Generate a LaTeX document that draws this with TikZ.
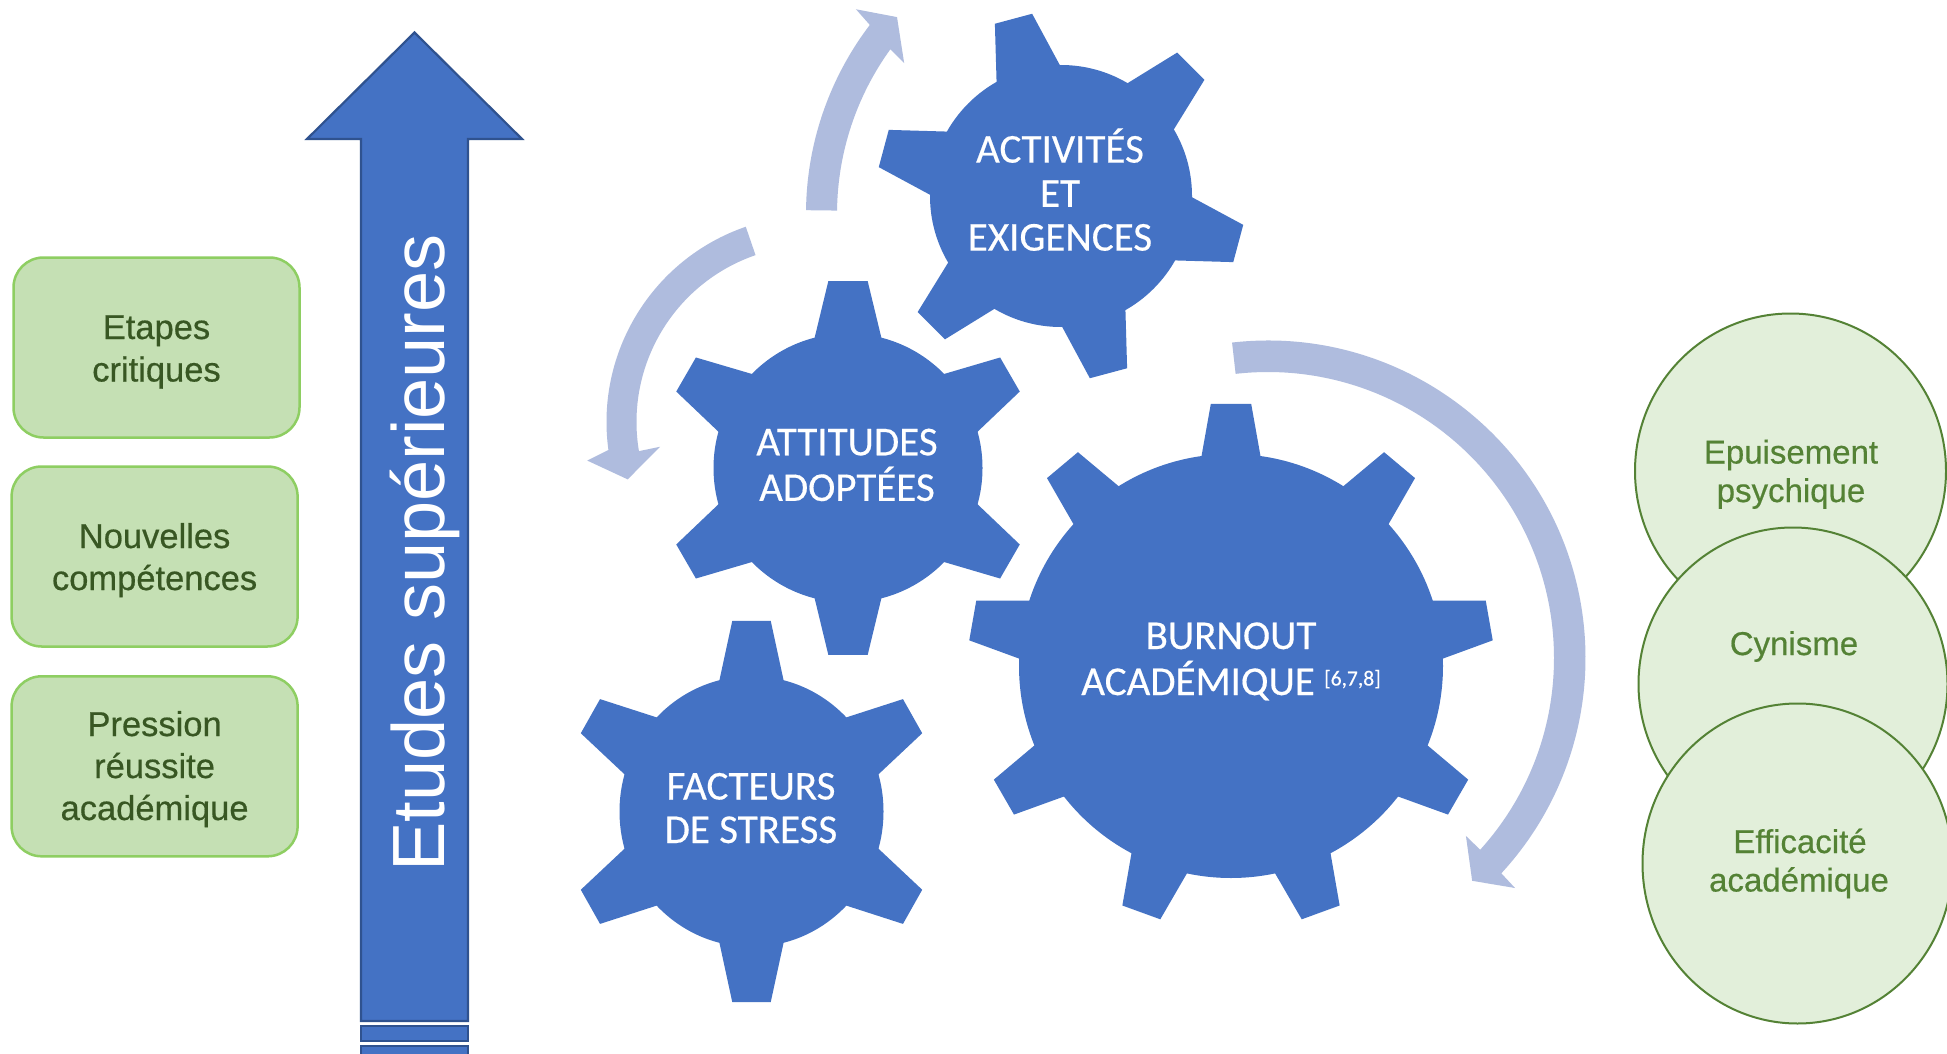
\documentclass[tikz,border=0pt]{standalone}
\usepackage{fontspec}
\setmainfont{Liberation Sans}
\newfontfamily\calfont{Carlito}[FakeBold=0.4]
\newfontfamily\lblfont{Liberation Sans}[FakeBold=0.5]
\usetikzlibrary{calc}

\definecolor{gearblue}{RGB}{68,114,196}
\definecolor{gearedge}{RGB}{47,82,143}
\definecolor{cyclecol}{RGB}{175,188,222}
\definecolor{boxfill}{RGB}{197,224,180}
\definecolor{boxline}{RGB}{142,206,98}
\definecolor{boxtext}{RGB}{56,87,35}
\definecolor{ellfill}{RGB}{226,239,218}
\definecolor{elline}{RGB}{84,130,53}
\definecolor{elltext}{RGB}{84,130,53}

% gear drawn at origin: root radius, outer radius, teeth, start angle, tip half-angle, base half-angle
\newcommand{\gearshape}[6]{%
  \fill[gearblue] (0,0) circle[radius=#1pt];
  \foreach \k in {1,...,#3}{%
    \pgfmathsetmacro\tA{#4+360/#3*(\k-1)}%
    \pgfmathsetmacro\tB{\tA-#6}%
    \pgfmathsetmacro\tC{\tA-#5}%
    \pgfmathsetmacro\tD{\tA+#5}%
    \pgfmathsetmacro\tE{\tA+#6}%
    \pgfmathsetmacro\tR{#1-0.6}%
    \pgfmathsetmacro\tI{#1*0.5}%
    \fill[gearblue] (\tB:\tR pt) -- (\tC:#2pt) -- (\tD:#2pt) -- (\tE:\tR pt) -- (\tA:\tI pt) -- cycle;
  }%
}

\tikzset{
  gtxt/.style={text=white, font=\calfont\fontsize{41}{41}\selectfont, inner sep=0pt, anchor=base},
  btxt/.style={text=boxtext, font=\lblfont\fontsize{34.5}{34.5}\selectfont, inner sep=0pt, anchor=base},
  etxt/.style={text=elltext, font=\lblfont\fontsize{33}{33}\selectfont, inner sep=0pt, anchor=base},
  greenbox/.style={draw=boxline, line width=2.5pt, fill=boxfill, rounded corners=30pt,
    minimum width=286pt, minimum height=180pt, inner sep=0pt},
  greenell/.style={draw=elline, line width=2pt, fill=ellfill},
  cyc/.style={fill=cyclecol},
  bigarrow/.style={fill=gearblue, draw=gearedge, line width=2.2pt, line join=miter},
}

\begin{document}
\begin{tikzpicture}[x=1pt,y=1pt]
\useasboundingbox (0,0) rectangle (1947,-1054);
\fill[white] (0,0) rectangle (1947,-1054);

% ---- vertical arrow "Etudes supérieures"
\draw[bigarrow] (361,-1021) -- (361,-139) -- (307,-139) -- (414.5,-32.5) -- (522,-139) -- (468,-139) -- (468,-1021) -- cycle;
\draw[bigarrow] (361,-1025.7) rectangle (468,-1041);
\draw[bigarrow] (361,-1045.7) rectangle (468,-1060);
\node[text=white, font=\fontsize{74}{74}\selectfont, rotate=90, anchor=base, inner sep=0pt] (etudes) at (444,-553) {Etudes supérieures};

% ---- left boxes
\node[greenbox] (box1) at (156.5,-347.5) {};
\node[greenbox] (box2) at (154.6,-556.5) {};
\node[greenbox] (box3) at (154.6,-766.3) {};
\node[btxt] (b1a) at (156.5,-339) {Etapes};
\node[btxt] (b1b) at (156.5,-381.5) {critiques};
\node[btxt] (b2a) at (154.6,-548) {Nouvelles};
\node[btxt] (b2b) at (154.6,-590) {compétences};
\node[btxt] (b3a) at (154.6,-736) {Pression};
\node[btxt] (b3b) at (154.6,-778) {réussite};
\node[btxt] (b3c) at (154.6,-820) {académique};

% ---- cycle arrows
\coordinate (c1) at (1118,-214);
\fill[cyc] ($(c1)+(179.3:312pt)$) arc[start angle=179.3, end angle=142.7, radius=312pt]
  -- ($(c1)+(142:332.5pt)$) -- ($(c1)+(138.3:296pt)$) -- ($(c1)+(144.8:261.7pt)$)
  -- ($(c1)+(144.1:281pt)$) arc[start angle=144.1, end angle=179.3, radius=281pt] -- cycle;

\coordinate (c2) at (813,-422);
\fill[cyc] ($(c2)+(109:206.5pt)$) arc[start angle=109, end angle=187.8, radius=206.5pt]
  -- ($(c2)+(189.7:229pt)$) -- ($(c2)+(197.2:194pt)$) -- ($(c2)+(189.2:155pt)$)
  -- ($(c2)+(189.5:176.5pt)$) arc[start angle=189.5, end angle=109, radius=176.5pt] -- cycle;

\coordinate (c3) at (1268,-658);
\fill[cyc] ($(c3)+(96.5:317.5pt)$) arc[start angle=96.5, end angle=-42.7, radius=317.5pt]
  -- ($(c3)+(-42.96:337.5pt)$) -- ($(c3)+(-47.5:302.2pt)$) -- ($(c3)+(-41.96:266.2pt)$)
  -- ($(c3)+(-42.1:286pt)$) arc[start angle=-42.1, end angle=96.5, radius=286pt] -- cycle;

% ---- gears
\begin{scope}[shift={(1061,-196)}]
  \gearshape{131}{184.5}{6}{105}{6}{14.6}
\end{scope}
\begin{scope}[shift={(848,-468)}]
  \gearshape{134.5}{188}{6}{90}{6}{14.5}
\end{scope}
\begin{scope}[shift={(751.5,-811.5)}, yscale=1.025]
  \gearshape{132}{187}{6}{90}{5.9}{14.2}
\end{scope}
\begin{scope}[shift={(1231,-666)}]
  \gearshape{212}{263}{9}{90}{4.4}{8.05}
\end{scope}

\node[gtxt] (g1a) at (1060,-162.6) {ACTIVITÉS};
\node[gtxt] (g1b) at (1060,-206.8) {ET};
\node[gtxt] (g1c) at (1060,-250.6) {EXIGENCES};
\node[gtxt] (g2a) at (847,-455.3) {ATTITUDES};
\node[gtxt] (g2b) at (847,-500.9) {ADOPTÉES};
\node[gtxt] (g3a) at (751,-799.5) {FACTEURS};
\node[gtxt] (g3b) at (751,-843) {DE STRESS};
\node[gtxt] (g4a) at (1231,-649) {BURNOUT};
\node[gtxt] (g4b) at (1231,-695) {ACADÉMIQUE {\fontsize{21.5}{21.5}\selectfont\raisebox{9.5pt}{[6,7,8]}}};

% ---- right ellipses
\draw[greenell] (1790.5,-471) ellipse[x radius=155.5pt, y radius=157.5pt];
\draw[greenell] (1793,-684) ellipse[x radius=154.5pt, y radius=156.5pt];
\draw[greenell] (1797.5,-863.5) ellipse[x radius=155pt, y radius=160pt];
\node[etxt] (e1a) at (1791,-463.5) {Epuisement};
\node[etxt] (e1b) at (1791,-502) {psychique};
\node[etxt] (e2a) at (1794,-655) {Cynisme};
\node[etxt] (e3a) at (1800,-853) {Efficacité};
\node[etxt] (e3b) at (1799,-891.5) {académique};
\end{tikzpicture}
\end{document}
